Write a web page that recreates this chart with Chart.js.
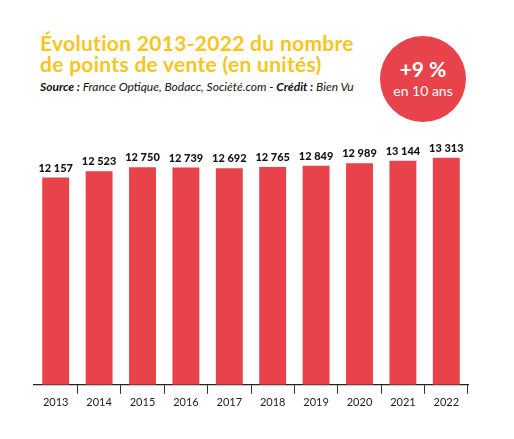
<!DOCTYPE html>
<html><head><meta charset="utf-8">
<script src="https://cdn.jsdelivr.net/npm/chart.js@4"></script>
<style>
body{margin:0;background:#fff;width:514px;height:439px;overflow:hidden;position:relative;font-family:Lato,"Noto Sans",sans-serif}
#t{position:absolute;left:40px;top:32px;color:#f7c51e;font:700 21px/21px Lato,sans-serif;letter-spacing:0.3px}
#s{position:absolute;left:40px;top:79px;font:italic 12px Lato,sans-serif;color:#111}
#c{position:absolute;left:380px;top:36px;width:86px;height:86px;border-radius:50%;background:#e8424a;color:#fff;text-align:center}
#c b{display:block;margin-top:20px;font:700 21px Lato,sans-serif}
#c span{display:block;font:14px Lato,sans-serif;margin-top:1px}
canvas{position:absolute;left:0;top:0}
</style></head><body>
<div id="t">Évolution 2013-2022 du nombre<br>de points de vente (en unités)</div>
<div id="s"><b>Source :</b> France Optique, Bodacc, Société.com - <b>Crédit :</b> Bien Vu</div>
<div id="c"><b>+9 %</b><span>en 10 ans</span></div>
<canvas id="ch" width="514" height="439"></canvas>
<script>
const years=["2013","2014","2015","2016","2017","2018","2019","2020","2021","2022"];
const values=[12157,12523,12750,12739,12692,12765,12849,12989,13144,13313];
const fmt=v=>String(v).replace(/\B(?=(\d{3})+$)/g," ");
const labels={id:"lab",afterDatasetsDraw(c){const x=c.ctx;const m=c.getDatasetMeta(0);x.save();x.font="900 11px Lato,sans-serif";x.fillStyle="#111";x.textAlign="center";x.textBaseline="bottom";
m.data.forEach((b,i)=>x.fillText(fmt(values[i]),b.x,b.y-4));x.restore();}};
new Chart(document.getElementById("ch"),{type:"bar",data:{labels:years,datasets:[{data:values,backgroundColor:"#e8424a",categoryPercentage:1,barPercentage:0.62}]},
options:{responsive:false,animation:false,layout:{padding:{left:34,right:46,top:129,bottom:28}},
plugins:{legend:{display:false},tooltip:{enabled:false}},
scales:{y:{display:false,min:0,max:15000},
x:{grid:{offset:true,drawOnChartArea:false,tickLength:9,color:(ctx)=>(ctx.index===0||ctx.index===10)?"rgba(0,0,0,0)":"#333"},border:{color:"#222",width:1.2},
ticks:{color:"#222",font:{size:11,family:"Lato"},padding:2}}}},plugins:[labels]});
</script></body></html>
